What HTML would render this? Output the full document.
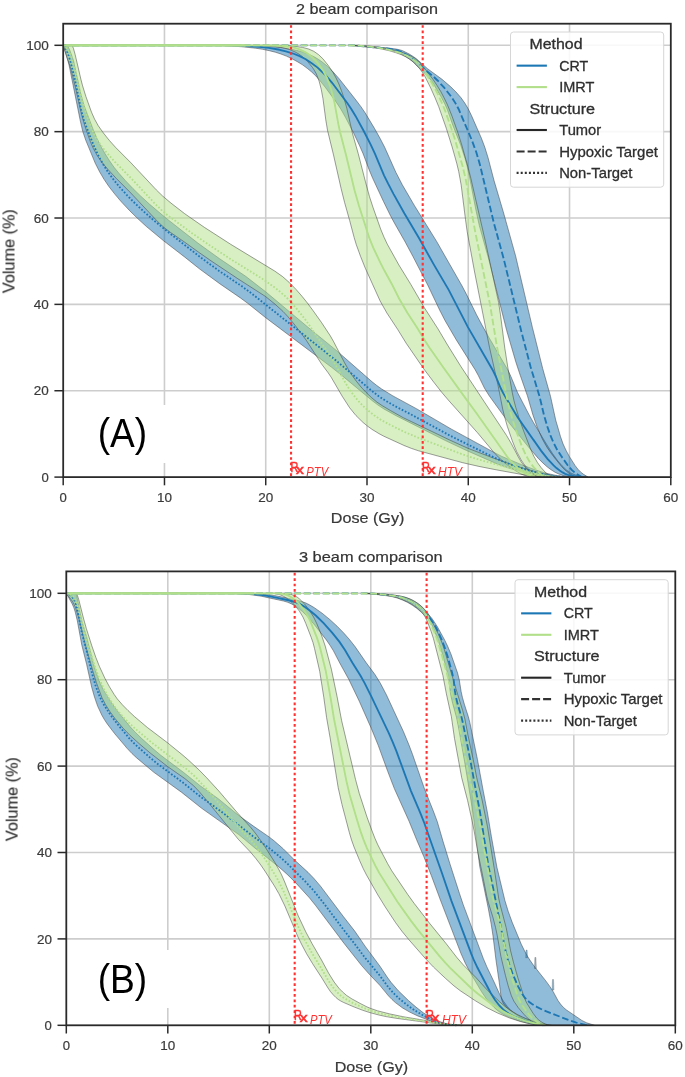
<!DOCTYPE html>
<html><head><meta charset="utf-8"><style>
html,body{margin:0;padding:0;background:#fff;width:685px;height:1077px;overflow:hidden}
svg{display:block}
</style></head><body>
<svg width="685" height="1077" viewBox="0 0 685 1077" font-family='"Liberation Sans", sans-serif'>
<defs><filter id="soft" x="0" y="0" width="685" height="1077" filterUnits="userSpaceOnUse"><feGaussianBlur stdDeviation="0.45"/></filter></defs>
<rect width="685" height="1077" fill="#ffffff"/>
<g filter="url(#soft)">
<g stroke="#cdcdcd" stroke-width="1.6">
<line x1="164.47" y1="23.70" x2="164.47" y2="477.10"/>
<line x1="265.73" y1="23.70" x2="265.73" y2="477.10"/>
<line x1="367.00" y1="23.70" x2="367.00" y2="477.10"/>
<line x1="468.27" y1="23.70" x2="468.27" y2="477.10"/>
<line x1="569.53" y1="23.70" x2="569.53" y2="477.10"/>
<line x1="63.20" y1="390.74" x2="670.80" y2="390.74"/>
<line x1="63.20" y1="304.38" x2="670.80" y2="304.38"/>
<line x1="63.20" y1="218.02" x2="670.80" y2="218.02"/>
<line x1="63.20" y1="131.66" x2="670.80" y2="131.66"/>
<line x1="63.20" y1="45.30" x2="670.80" y2="45.30"/>
</g>
<g>
<path d="M250.4,45.4 L274.2,46.9 L282.0,47.7 L289.3,48.9 L296.4,50.3 L302.4,51.9 L308.2,54.0 L313.6,56.5 L318.4,59.3 L322.9,62.5 L327.5,66.3 L331.9,70.6 L339.3,78.9 L356.5,100.8 L361.1,106.9 L365.1,112.8 L374.6,128.6 L380.3,138.8 L384.7,147.3 L395.8,172.2 L402.3,184.8 L414.4,205.5 L436.8,241.7 L462.1,286.0 L466.7,294.8 L476.6,314.9 L482.0,325.1 L489.3,338.1 L507.9,370.1 L510.9,376.5 L517.5,392.5 L529.3,415.2 L533.3,422.3 L547.0,444.9 L552.4,453.3 L557.4,460.3 L562.0,465.7 L566.4,469.9 L570.7,472.9 L575.0,474.8 L579.7,476.1 L586.5,477.1 L572.8,477.1 L566.8,476.3 L562.8,475.4 L559.0,474.1 L555.3,472.4 L551.3,469.9 L547.1,466.8 L542.8,462.9 L538.3,458.4 L528.7,447.3 L505.7,418.6 L489.0,395.5 L484.4,388.0 L478.3,375.5 L475.1,369.7 L456.3,339.9 L445.1,320.7 L439.6,310.0 L428.2,286.0 L413.0,256.6 L405.3,242.2 L394.5,223.2 L390.1,215.0 L383.5,201.5 L372.6,178.1 L369.2,169.9 L363.1,153.7 L359.3,145.1 L353.6,133.0 L345.6,117.6 L341.0,109.4 L336.4,102.4 L325.2,87.2 L319.5,80.1 L315.8,75.9 L311.7,72.0 L307.2,68.3 L302.5,64.8 L297.4,61.7 L291.7,58.6 L286.4,56.1 L280.9,54.0 L275.3,52.2 L269.3,50.7 L262.7,49.3 L255.6,48.2 L241.4,46.7 L220.3,45.4 Z" fill="#1f78b4" fill-opacity="0.5" stroke="#3c3c3c" stroke-opacity="0.55" stroke-width="0.9" stroke-linejoin="round"/>
<path d="M359.0,45.4 L390.5,48.3 L396.4,49.1 L399.7,49.8 L402.8,50.8 L409.2,54.0 L413.2,56.5 L416.7,59.0 L427.5,68.7 L442.0,79.3 L450.5,86.6 L456.0,92.0 L460.9,97.6 L464.8,103.1 L468.2,108.8 L471.5,115.6 L481.4,138.2 L484.9,147.5 L488.0,157.5 L494.1,180.8 L503.3,211.9 L515.6,255.9 L532.4,327.4 L542.7,368.5 L550.5,396.3 L555.7,420.0 L560.5,436.6 L563.1,444.0 L565.9,450.1 L569.3,456.4 L575.0,465.4 L577.9,469.2 L580.5,471.9 L583.5,474.3 L588.1,477.1 L575.3,477.1 L569.2,473.5 L564.5,469.6 L561.0,465.8 L555.1,458.5 L550.7,452.7 L547.4,447.9 L544.8,443.5 L542.1,438.5 L537.0,426.7 L533.0,415.2 L527.4,395.8 L520.2,375.2 L515.9,362.2 L506.6,330.3 L488.3,257.8 L479.3,225.5 L476.2,211.5 L469.3,175.9 L467.1,166.2 L465.0,158.5 L460.7,145.2 L452.7,124.9 L447.5,110.1 L444.8,103.9 L441.5,97.6 L433.5,84.0 L430.8,80.0 L428.3,76.9 L413.0,61.9 L409.0,58.7 L404.2,55.7 L399.6,53.3 L395.3,51.4 L391.9,50.2 L387.9,49.2 L381.4,48.4 L348.7,45.4 Z" fill="#1f78b4" fill-opacity="0.5" stroke="#3c3c3c" stroke-opacity="0.55" stroke-width="0.9" stroke-linejoin="round"/>
<path d="M66.9,45.3 L68.2,47.0 L69.6,49.7 L73.4,60.2 L81.0,94.8 L84.2,105.9 L93.8,131.2 L97.1,138.7 L100.7,146.1 L104.8,153.3 L109.2,160.3 L113.9,167.1 L118.7,173.0 L125.3,180.5 L132.9,188.5 L140.5,195.9 L149.4,204.1 L166.7,218.7 L197.9,243.1 L219.7,258.8 L245.7,276.3 L265.7,291.8 L313.1,331.5 L336.3,350.4 L372.1,381.8 L376.8,385.5 L381.7,389.0 L392.9,395.9 L416.8,408.9 L451.5,429.2 L494.1,452.4 L501.8,456.4 L521.6,464.7 L533.6,469.2 L541.3,471.8 L548.1,473.7 L555.1,475.2 L561.5,476.2 L569.5,477.1 L553.1,477.1 L546.7,476.5 L540.8,475.7 L526.4,472.7 L508.8,468.1 L497.7,464.2 L466.3,450.4 L445.8,440.8 L396.4,415.9 L383.8,408.9 L378.0,405.1 L372.5,400.9 L342.4,375.9 L331.6,367.3 L265.7,317.7 L247.7,303.3 L240.4,297.9 L219.7,283.7 L199.4,268.8 L184.5,256.9 L163.6,240.8 L146.4,226.5 L137.2,218.1 L129.4,210.4 L121.6,202.1 L115.2,194.6 L108.9,186.5 L104.0,179.3 L99.6,171.8 L95.2,163.1 L85.7,140.1 L82.8,131.6 L80.3,120.9 L69.3,66.2 L67.5,59.0 L63.2,45.3 Z" fill="#1f78b4" fill-opacity="0.5" stroke="#3c3c3c" stroke-opacity="0.55" stroke-width="0.9" stroke-linejoin="round"/>
<path d="M284.5,45.4 L293.9,46.1 L302.6,47.4 L308.6,49.0 L313.8,51.3 L318.4,54.5 L322.8,58.7 L328.3,65.5 L333.0,72.5 L336.0,77.9 L338.8,83.9 L341.4,90.6 L343.9,97.8 L346.9,108.6 L352.4,133.2 L358.2,153.5 L365.3,181.2 L369.5,196.7 L373.1,207.7 L380.7,229.2 L384.0,237.2 L387.3,244.2 L398.9,265.0 L410.8,284.4 L424.4,307.8 L438.0,328.9 L447.6,345.1 L461.1,366.8 L506.5,435.4 L511.1,443.2 L518.4,457.1 L521.3,462.1 L525.8,467.9 L530.6,472.5 L532.8,474.0 L535.2,475.2 L540.9,477.1 L530.5,477.1 L525.0,475.5 L521.1,474.0 L515.9,471.0 L509.5,466.6 L503.8,462.1 L498.8,457.5 L493.2,451.5 L477.3,432.5 L448.0,399.7 L441.8,392.4 L433.8,382.2 L423.8,368.9 L406.3,343.4 L397.6,329.3 L386.9,313.0 L380.1,300.9 L365.3,268.2 L360.6,256.5 L356.3,244.7 L354.2,237.7 L349.7,220.6 L344.6,202.5 L341.1,188.5 L333.5,154.9 L327.5,130.2 L325.8,119.9 L323.0,98.8 L321.3,89.6 L319.1,81.1 L316.3,73.8 L314.4,70.4 L312.5,67.5 L307.7,61.6 L302.0,56.3 L299.0,54.2 L295.8,52.3 L289.6,49.5 L282.7,47.6 L273.6,46.2 L263.0,45.4 Z" fill="#b2df8a" fill-opacity="0.5" stroke="#3c3c3c" stroke-opacity="0.55" stroke-width="0.9" stroke-linejoin="round"/>
<path d="M359.7,45.4 L367.6,45.9 L378.4,47.1 L385.8,48.2 L393.0,49.7 L399.6,51.5 L405.1,53.3 L410.3,55.7 L414.5,58.1 L418.2,61.0 L421.5,64.5 L426.5,70.7 L433.0,79.4 L437.0,85.4 L440.8,91.6 L444.1,97.9 L447.4,104.7 L452.1,116.4 L458.1,133.4 L461.7,144.8 L467.7,166.0 L470.8,178.2 L485.4,241.6 L498.6,302.4 L500.4,314.2 L504.8,348.2 L507.9,367.9 L512.3,392.9 L514.0,400.8 L515.8,407.6 L518.9,417.7 L523.3,430.1 L530.1,447.9 L533.7,456.0 L537.4,462.5 L541.1,467.6 L545.3,472.3 L550.8,477.1 L537.6,477.1 L530.9,471.6 L525.9,466.5 L523.4,463.3 L520.9,459.5 L516.6,451.5 L512.3,440.9 L507.3,426.3 L504.7,417.2 L502.7,409.0 L497.9,384.6 L489.6,347.8 L474.6,272.0 L467.2,231.8 L465.5,219.5 L461.2,185.1 L458.7,171.4 L456.7,163.1 L452.1,146.8 L446.4,128.6 L438.7,106.6 L435.1,97.9 L430.7,88.0 L425.1,76.8 L422.3,72.3 L419.4,68.3 L416.4,64.9 L413.1,61.7 L409.8,59.2 L406.3,57.1 L401.6,54.8 L395.8,52.7 L389.9,50.9 L383.0,49.3 L376.0,48.0 L368.5,46.9 L358.4,45.9 L350.9,45.4 Z" fill="#b2df8a" fill-opacity="0.5" stroke="#3c3c3c" stroke-opacity="0.55" stroke-width="0.9" stroke-linejoin="round"/>
<path d="M72.1,45.3 L73.4,48.3 L75.1,54.4 L80.9,79.3 L82.6,85.9 L85.9,96.5 L91.5,112.2 L94.6,119.2 L98.3,125.8 L103.3,132.9 L109.4,140.5 L115.5,147.3 L131.0,162.9 L156.3,189.9 L162.8,196.2 L171.0,203.1 L184.7,213.7 L204.3,227.3 L230.7,244.3 L274.8,271.1 L282.6,276.6 L289.4,282.6 L296.0,289.4 L302.0,296.3 L307.4,303.0 L313.1,310.7 L321.5,322.5 L330.4,336.0 L333.7,341.8 L344.5,362.7 L348.4,369.5 L351.7,374.8 L356.3,381.2 L361.0,387.0 L366.0,392.4 L371.4,397.5 L377.0,402.2 L382.1,405.6 L390.5,410.6 L403.4,417.8 L450.9,440.6 L467.9,448.3 L491.9,457.5 L508.8,463.5 L521.4,467.7 L539.5,472.8 L559.4,477.1 L543.0,477.1 L535.1,476.3 L520.9,474.3 L496.7,469.9 L478.9,466.4 L462.7,462.7 L418.6,450.8 L411.2,448.3 L403.9,445.4 L383.8,436.2 L379.1,433.7 L372.1,429.4 L367.5,426.1 L363.1,422.5 L356.0,415.6 L349.7,407.8 L342.2,396.2 L331.1,377.1 L328.1,372.7 L321.5,363.9 L306.3,340.3 L300.2,331.9 L293.4,323.2 L287.7,316.4 L283.0,311.4 L275.2,304.3 L265.4,296.4 L237.8,278.7 L211.0,260.8 L198.2,251.9 L184.7,242.2 L170.6,232.5 L164.7,228.0 L160.6,224.4 L155.6,219.4 L131.0,193.2 L116.2,178.3 L108.1,169.6 L102.7,163.3 L97.3,155.7 L93.3,148.4 L90.2,141.2 L84.8,125.8 L81.5,114.2 L75.9,89.3 L71.0,69.4 L69.2,63.6 L67.1,58.0 L63.2,45.3 Z" fill="#b2df8a" fill-opacity="0.5" stroke="#3c3c3c" stroke-opacity="0.55" stroke-width="0.9" stroke-linejoin="round"/>
<path d="M63.2,45.3 L229.9,45.3 L241.4,45.7 L259.3,46.9 L268.8,47.9 L278.2,49.5 L285.9,51.3 L293.1,53.5 L299.6,56.1 L305.8,59.3 L312.1,63.4 L317.6,67.6 L324.9,74.5 L332.1,82.8 L347.4,103.2 L351.6,109.4 L355.5,115.9 L363.6,130.8 L370.7,144.6 L374.9,153.7 L384.0,175.3 L388.0,183.4 L393.6,194.1 L404.3,213.3 L419.1,238.3 L434.0,264.9 L448.7,289.9 L467.5,326.4 L492.5,369.7 L495.6,376.0 L500.6,388.0 L503.3,393.4 L517.5,416.9 L522.3,423.9 L541.0,450.6 L547.5,458.8 L553.6,465.4 L556.5,468.1 L559.7,470.5 L562.6,472.4 L565.2,473.8 L568.0,474.8 L571.3,475.8 L579.7,477.1" fill="none" stroke="#1f78b4" stroke-width="1.85" />
<path d="M63.2,45.3 L354.4,45.4 L387.2,48.5 L394.6,49.7 L399.3,51.2 L404.2,53.5 L410.2,57.0 L415.0,60.6 L423.8,68.7 L433.1,76.3 L437.8,80.7 L444.2,87.7 L451.0,96.4 L455.4,103.1 L458.7,109.2 L471.8,140.1 L476.3,152.3 L479.8,164.2 L493.9,223.1 L503.7,258.8 L521.4,331.7 L530.5,366.6 L539.6,396.7 L544.0,415.2 L547.4,426.7 L550.5,435.7 L553.7,443.1 L556.9,449.3 L560.9,455.6 L567.5,465.0 L571.7,469.9 L575.8,473.5 L581.7,477.1" fill="none" stroke="#1f78b4" stroke-width="1.85" stroke-dasharray="6.7,2.8"/>
<path d="M63.2,45.3 L65.7,49.0 L67.3,52.1 L68.7,55.8 L70.3,61.0 L74.5,78.0 L81.1,109.8 L83.7,119.5 L85.9,125.6 L93.2,144.2 L96.0,150.6 L99.3,157.4 L103.7,165.2 L108.3,172.4 L113.6,179.7 L119.6,187.0 L127.0,195.2 L135.1,203.4 L144.2,211.9 L154.0,220.5 L167.5,231.6 L202.2,258.6 L218.8,270.7 L241.6,286.1 L251.3,293.2 L334.3,359.1 L373.3,392.1 L378.8,396.3 L385.1,400.4 L395.1,406.2 L411.5,414.7 L451.1,436.2 L493.6,457.3 L501.8,461.0 L509.7,464.1 L520.2,467.7 L532.6,471.5 L540.8,473.7 L547.6,475.1 L554.6,476.1 L561.0,476.7 L569.5,477.1" fill="none" stroke="#1f78b4" stroke-width="1.85" stroke-dasharray="1.7,1.8"/>
<path d="M63.2,45.3 L263.8,45.3 L275.3,45.5 L288.7,46.8 L293.6,47.7 L297.4,48.7 L301.6,50.3 L305.6,52.3 L308.9,54.5 L312.3,57.3 L315.5,60.5 L318.4,63.9 L323.3,70.8 L327.2,78.4 L330.6,87.7 L332.5,94.5 L334.3,101.7 L338.4,124.4 L340.1,132.2 L345.9,154.4 L354.6,190.4 L358.8,205.3 L369.2,237.7 L373.1,247.4 L380.2,262.4 L384.5,270.8 L392.2,284.8 L399.2,298.7 L407.5,313.0 L417.3,328.1 L425.3,341.3 L429.7,348.0 L443.2,367.3 L465.4,398.1 L475.8,412.2 L506.9,456.3 L510.3,460.6 L513.8,464.2 L517.8,467.9 L521.7,471.0 L524.6,473.0 L527.6,474.6 L530.8,475.9 L535.1,477.1" fill="none" stroke="#b2df8a" stroke-width="1.85" />
<path d="M63.2,45.3 L344.3,45.3 L356.8,45.5 L366.8,46.3 L377.7,47.6 L386.0,49.1 L393.8,50.9 L401.0,53.2 L406.9,55.7 L411.7,58.4 L416.0,61.7 L421.1,67.1 L426.7,74.8 L432.0,83.2 L437.2,92.9 L441.5,102.0 L445.3,111.2 L450.8,126.8 L455.0,139.6 L462.4,165.5 L465.6,178.7 L475.3,232.3 L489.9,303.8 L496.3,342.8 L499.0,357.6 L507.2,399.3 L509.7,410.0 L513.1,421.5 L517.1,433.4 L522.3,447.4 L526.1,455.6 L529.8,462.1 L534.0,467.6 L538.5,472.3 L544.2,477.1" fill="none" stroke="#b2df8a" stroke-width="1.85" stroke-dasharray="6.7,2.8"/>
<path d="M63.2,45.3 L66.1,47.8 L68.2,50.5 L69.9,53.5 L71.5,57.6 L75.2,70.6 L80.9,95.5 L82.6,102.3 L85.8,112.3 L91.5,128.3 L94.1,134.2 L97.3,139.9 L101.2,145.7 L105.8,151.6 L115.1,162.1 L131.0,178.1 L154.6,203.3 L161.0,209.6 L167.0,214.8 L191.6,232.9 L209.3,245.1 L232.3,260.2 L260.4,277.6 L268.3,282.9 L278.4,290.3 L286.3,297.2 L295.4,307.2 L304.5,318.5 L309.7,325.8 L320.9,342.4 L328.4,353.0 L332.9,360.2 L345.0,382.1 L348.6,388.1 L351.7,392.6 L355.4,397.4 L359.3,402.0 L363.1,405.9 L367.5,410.0 L374.1,415.3 L381.2,420.0 L390.0,424.8 L404.3,431.9 L418.6,437.9 L461.3,453.9 L472.2,457.5 L486.1,461.6 L522.4,471.3 L532.7,473.5 L542.5,475.3 L550.4,476.3 L559.4,477.1" fill="none" stroke="#b2df8a" stroke-width="1.85" stroke-dasharray="1.7,1.8"/>
<line x1="66.24" y1="45.30" x2="245.48" y2="45.30" stroke="#b2df8a" stroke-width="2.2"/>
</g>
<line x1="291.05" y1="23.70" x2="291.05" y2="477.10" stroke="#ff3030" stroke-width="2.1" stroke-dasharray="2.7,2.7" stroke-dashoffset="3.95"/>
<text x="290.45" y="471.50" font-size="15" fill="#ff3030" stroke="#ff3030" stroke-width="0.5" textLength="7.8" lengthAdjust="spacingAndGlyphs">R</text>
<text x="296.05" y="473.70" font-size="12.5" fill="#ff3030" stroke="#ff3030" stroke-width="0.5" textLength="7.9" lengthAdjust="spacingAndGlyphs">x</text>
<text x="306.35" y="476.10" font-size="12.4" font-style="italic" fill="#ff3030" textLength="21.9" lengthAdjust="spacingAndGlyphs">PTV</text>
<line x1="422.70" y1="23.70" x2="422.70" y2="477.10" stroke="#ff3030" stroke-width="2.1" stroke-dasharray="2.7,2.7" stroke-dashoffset="3.95"/>
<text x="422.10" y="471.50" font-size="15" fill="#ff3030" stroke="#ff3030" stroke-width="0.5" textLength="7.8" lengthAdjust="spacingAndGlyphs">R</text>
<text x="427.70" y="473.70" font-size="12.5" fill="#ff3030" stroke="#ff3030" stroke-width="0.5" textLength="7.9" lengthAdjust="spacingAndGlyphs">x</text>
<text x="438.00" y="476.10" font-size="12.4" font-style="italic" fill="#ff3030" textLength="24.1" lengthAdjust="spacingAndGlyphs">HTV</text>
<rect x="63.20" y="23.70" width="607.60" height="453.40" fill="none" stroke="#2b2b2b" stroke-width="1.8"/>
<g stroke="#2b2b2b" stroke-width="1.5">
<line x1="63.20" y1="477.10" x2="63.20" y2="485.30"/>
<line x1="164.47" y1="477.10" x2="164.47" y2="485.30"/>
<line x1="265.73" y1="477.10" x2="265.73" y2="485.30"/>
<line x1="367.00" y1="477.10" x2="367.00" y2="485.30"/>
<line x1="468.27" y1="477.10" x2="468.27" y2="485.30"/>
<line x1="569.53" y1="477.10" x2="569.53" y2="485.30"/>
<line x1="670.80" y1="477.10" x2="670.80" y2="485.30"/>
<line x1="54.40" y1="477.10" x2="63.20" y2="477.10"/>
<line x1="54.40" y1="390.74" x2="63.20" y2="390.74"/>
<line x1="54.40" y1="304.38" x2="63.20" y2="304.38"/>
<line x1="54.40" y1="218.02" x2="63.20" y2="218.02"/>
<line x1="54.40" y1="131.66" x2="63.20" y2="131.66"/>
<line x1="54.40" y1="45.30" x2="63.20" y2="45.30"/>
</g>
<text x="63.20" y="501.90" font-size="13" text-anchor="middle" fill="#3a3a3a" stroke="#3a3a3a" stroke-width="0.2" textLength="7.3" lengthAdjust="spacingAndGlyphs" >0</text>
<text x="164.47" y="501.90" font-size="13" text-anchor="middle" fill="#3a3a3a" stroke="#3a3a3a" stroke-width="0.2" textLength="15.0" lengthAdjust="spacingAndGlyphs" >10</text>
<text x="265.73" y="501.90" font-size="13" text-anchor="middle" fill="#3a3a3a" stroke="#3a3a3a" stroke-width="0.2" textLength="15.0" lengthAdjust="spacingAndGlyphs" >20</text>
<text x="367.00" y="501.90" font-size="13" text-anchor="middle" fill="#3a3a3a" stroke="#3a3a3a" stroke-width="0.2" textLength="15.0" lengthAdjust="spacingAndGlyphs" >30</text>
<text x="468.27" y="501.90" font-size="13" text-anchor="middle" fill="#3a3a3a" stroke="#3a3a3a" stroke-width="0.2" textLength="15.0" lengthAdjust="spacingAndGlyphs" >40</text>
<text x="569.53" y="501.90" font-size="13" text-anchor="middle" fill="#3a3a3a" stroke="#3a3a3a" stroke-width="0.2" textLength="15.0" lengthAdjust="spacingAndGlyphs" >50</text>
<text x="670.80" y="501.90" font-size="13" text-anchor="middle" fill="#3a3a3a" stroke="#3a3a3a" stroke-width="0.2" textLength="15.0" lengthAdjust="spacingAndGlyphs" >60</text>
<text x="48.80" y="481.80" font-size="13" text-anchor="end" fill="#3a3a3a" stroke="#3a3a3a" stroke-width="0.2" textLength="7.3" lengthAdjust="spacingAndGlyphs" >0</text>
<text x="48.80" y="395.44" font-size="13" text-anchor="end" fill="#3a3a3a" stroke="#3a3a3a" stroke-width="0.2" textLength="15.0" lengthAdjust="spacingAndGlyphs" >20</text>
<text x="48.80" y="309.08" font-size="13" text-anchor="end" fill="#3a3a3a" stroke="#3a3a3a" stroke-width="0.2" textLength="15.0" lengthAdjust="spacingAndGlyphs" >40</text>
<text x="48.80" y="222.72" font-size="13" text-anchor="end" fill="#3a3a3a" stroke="#3a3a3a" stroke-width="0.2" textLength="15.0" lengthAdjust="spacingAndGlyphs" >60</text>
<text x="48.80" y="136.36" font-size="13" text-anchor="end" fill="#3a3a3a" stroke="#3a3a3a" stroke-width="0.2" textLength="15.0" lengthAdjust="spacingAndGlyphs" >80</text>
<text x="48.80" y="50.00" font-size="13" text-anchor="end" fill="#3a3a3a" stroke="#3a3a3a" stroke-width="0.2" textLength="22.6" lengthAdjust="spacingAndGlyphs" >100</text>
<text x="367.00" y="13.80" font-size="14.4" text-anchor="middle" fill="#333333" stroke="#333333" stroke-width="0.2" textLength="142" lengthAdjust="spacingAndGlyphs" >2 beam comparison</text>
<text x="367.60" y="523.30" font-size="14.2" text-anchor="middle" fill="#383838" stroke="#383838" stroke-width="0.2" textLength="73.5" lengthAdjust="spacingAndGlyphs" >Dose (Gy)</text>
<text x="0" y="0" font-size="15.6" text-anchor="middle" fill="#383838" stroke="#383838" stroke-width="0.2" textLength="84" lengthAdjust="spacingAndGlyphs" transform="translate(14.50,251.20) rotate(-90)">Volume (%)</text>
<rect x="510.50" y="32.00" width="153.20" height="155.20" rx="3" fill="#ffffff" fill-opacity="0.85" stroke="#d6d6d6" stroke-width="1"/>
<text x="529.50" y="49.30" font-size="14.6" text-anchor="start" fill="#2e2e2e" stroke="#2e2e2e" stroke-width="0.3" textLength="53" lengthAdjust="spacingAndGlyphs" >Method</text>
<line x1="516.60" y1="65.65" x2="546.90" y2="65.65" stroke="#1f78b4" stroke-width="2.1" />
<text x="559.20" y="70.75" font-size="14.6" text-anchor="start" fill="#2e2e2e" stroke="#2e2e2e" stroke-width="0.3" textLength="29" lengthAdjust="spacingAndGlyphs" >CRT</text>
<line x1="516.60" y1="87.10" x2="546.90" y2="87.10" stroke="#b2df8a" stroke-width="2.1" />
<text x="559.20" y="92.20" font-size="14.6" text-anchor="start" fill="#2e2e2e" stroke="#2e2e2e" stroke-width="0.3" textLength="35.2" lengthAdjust="spacingAndGlyphs" >IMRT</text>
<text x="529.50" y="113.65" font-size="14.6" text-anchor="start" fill="#2e2e2e" stroke="#2e2e2e" stroke-width="0.3" textLength="65.5" lengthAdjust="spacingAndGlyphs" >Structure</text>
<line x1="516.60" y1="130.00" x2="546.90" y2="130.00" stroke="#262626" stroke-width="2.1" />
<text x="559.20" y="135.10" font-size="14.6" text-anchor="start" fill="#2e2e2e" stroke="#2e2e2e" stroke-width="0.3" textLength="42" lengthAdjust="spacingAndGlyphs" >Tumor</text>
<line x1="516.60" y1="151.45" x2="546.90" y2="151.45" stroke="#333333" stroke-width="2.1" stroke-dasharray="8,3"/>
<text x="559.20" y="156.55" font-size="14.6" text-anchor="start" fill="#2e2e2e" stroke="#2e2e2e" stroke-width="0.3" textLength="98.7" lengthAdjust="spacingAndGlyphs" >Hypoxic Target</text>
<line x1="516.60" y1="172.90" x2="546.90" y2="172.90" stroke="#333333" stroke-width="2.1" stroke-dasharray="2,2.1"/>
<text x="559.20" y="178.00" font-size="14.6" text-anchor="start" fill="#2e2e2e" stroke="#2e2e2e" stroke-width="0.3" textLength="73.2" lengthAdjust="spacingAndGlyphs" >Non-Target</text>
<rect x="86" y="405" width="90" height="58" fill="#ffffff"/>
<text x="97.7" y="447.3" font-size="40" fill="#000" textLength="49.5" lengthAdjust="spacingAndGlyphs">(A)</text>
<g stroke="#cdcdcd" stroke-width="1.6">
<line x1="167.80" y1="571.40" x2="167.80" y2="1025.30"/>
<line x1="269.30" y1="571.40" x2="269.30" y2="1025.30"/>
<line x1="370.80" y1="571.40" x2="370.80" y2="1025.30"/>
<line x1="472.30" y1="571.40" x2="472.30" y2="1025.30"/>
<line x1="573.80" y1="571.40" x2="573.80" y2="1025.30"/>
<line x1="66.30" y1="938.90" x2="675.30" y2="938.90"/>
<line x1="66.30" y1="852.50" x2="675.30" y2="852.50"/>
<line x1="66.30" y1="766.10" x2="675.30" y2="766.10"/>
<line x1="66.30" y1="679.70" x2="675.30" y2="679.70"/>
<line x1="66.30" y1="593.30" x2="675.30" y2="593.30"/>
</g>
<g>
<path d="M251.5,593.4 L262.9,594.2 L274.2,595.5 L281.0,596.8 L297.4,600.4 L302.2,601.7 L305.9,603.0 L309.9,605.1 L314.3,607.7 L322.1,613.2 L330.0,619.7 L337.1,626.2 L344.0,633.3 L349.8,639.9 L355.2,646.8 L365.9,662.3 L375.0,674.6 L380.4,683.3 L386.5,695.0 L403.4,731.5 L408.9,744.8 L412.6,754.6 L424.5,788.9 L433.7,812.0 L437.3,821.7 L443.1,841.6 L449.9,863.7 L459.5,893.6 L463.3,904.9 L483.4,958.7 L486.9,966.9 L494.1,982.0 L499.9,994.8 L503.4,1001.1 L507.6,1006.8 L511.5,1011.0 L515.7,1014.1 L522.1,1017.4 L531.2,1020.8 L539.7,1023.3 L548.9,1025.3 L537.8,1025.3 L526.9,1023.0 L519.0,1020.7 L510.8,1017.8 L505.1,1015.3 L500.7,1012.8 L497.3,1010.3 L493.8,1007.2 L489.8,1003.0 L486.5,999.0 L481.5,991.7 L471.8,975.3 L465.5,963.7 L461.0,953.6 L440.8,901.1 L431.3,875.5 L423.8,856.6 L416.6,839.7 L409.1,821.3 L394.3,788.5 L387.8,771.6 L378.2,745.3 L371.3,728.4 L359.3,701.3 L348.8,679.4 L339.8,663.1 L333.3,650.6 L330.2,645.6 L326.3,639.9 L313.8,624.0 L306.2,615.2 L302.5,611.6 L298.8,608.6 L294.9,605.8 L291.5,603.9 L287.8,602.3 L283.5,601.0 L261.2,596.2 L249.2,594.5 L234.1,593.4 Z" fill="#1f78b4" fill-opacity="0.5" stroke="#3c3c3c" stroke-opacity="0.55" stroke-width="0.9" stroke-linejoin="round"/>
<path d="M374.3,593.4 L389.6,594.6 L396.5,595.5 L401.8,596.4 L406.0,597.5 L409.5,598.8 L412.9,600.4 L416.5,602.6 L419.8,605.1 L423.2,608.2 L427.2,612.7 L432.4,619.1 L437.3,626.6 L445.0,640.7 L447.9,646.8 L450.9,653.9 L457.6,673.1 L459.3,680.0 L461.1,691.4 L462.4,697.3 L464.3,704.1 L468.3,716.6 L469.8,722.4 L477.4,759.2 L483.3,791.2 L487.3,811.9 L491.4,836.6 L496.9,867.2 L504.9,900.5 L508.2,911.3 L512.1,922.1 L521.3,944.3 L524.4,950.6 L527.3,956.0 L530.4,960.8 L533.7,965.6 L545.8,980.9 L549.8,986.4 L553.2,991.7 L557.9,1000.4 L560.5,1004.1 L563.2,1007.2 L566.5,1010.0 L581.8,1020.4 L586.6,1022.8 L594.6,1025.3 L538.4,1025.3 L529.6,1022.5 L526.8,1021.3 L524.1,1019.7 L508.9,1009.6 L505.6,1006.4 L503.1,1003.0 L501.7,999.7 L500.9,995.9 L499.3,982.8 L496.0,960.3 L493.0,935.9 L491.2,924.1 L488.2,907.9 L479.7,866.3 L473.2,814.3 L464.6,761.7 L458.2,725.8 L456.5,717.5 L452.7,703.6 L451.1,696.8 L450.1,690.9 L448.9,680.0 L447.8,674.1 L442.1,652.9 L438.6,641.6 L433.4,628.0 L431.4,624.0 L429.3,620.7 L426.0,616.8 L421.6,612.4 L417.0,608.5 L412.1,605.1 L407.4,602.3 L402.4,600.0 L397.5,598.1 L392.9,596.8 L387.8,595.9 L380.7,594.9 L370.1,593.9 L362.5,593.4 Z" fill="#1f78b4" fill-opacity="0.5" stroke="#3c3c3c" stroke-opacity="0.55" stroke-width="0.9" stroke-linejoin="round"/>
<path d="M75.6,593.3 L76.5,595.4 L77.2,598.1 L81.9,620.9 L86.8,637.4 L93.1,662.4 L96.0,672.2 L99.2,680.9 L101.5,686.1 L103.9,690.7 L111.1,702.2 L118.4,712.3 L130.0,726.6 L135.2,732.2 L141.5,738.3 L152.9,748.6 L160.7,755.2 L183.7,772.5 L200.1,785.7 L218.5,798.9 L238.8,815.6 L253.4,826.1 L269.1,836.9 L274.3,841.0 L283.4,848.9 L294.5,860.0 L308.0,872.3 L313.7,878.2 L320.3,885.9 L343.2,916.3 L354.9,931.3 L365.1,946.2 L379.8,966.0 L387.2,977.1 L391.0,982.3 L398.4,990.8 L408.5,1000.6 L416.0,1007.1 L423.3,1012.8 L428.7,1016.1 L434.1,1019.1 L439.3,1021.4 L444.2,1023.1 L450.1,1024.3 L457.1,1025.3 L450.1,1025.1 L444.2,1024.5 L437.4,1023.2 L430.9,1021.1 L417.2,1015.7 L409.7,1012.1 L402.5,1007.9 L395.4,1002.6 L392.0,999.5 L388.7,996.1 L379.8,985.3 L368.2,973.0 L361.4,965.3 L344.1,943.4 L315.6,905.5 L309.4,897.8 L294.9,881.9 L286.7,873.9 L278.2,866.4 L255.0,848.1 L238.8,834.6 L201.7,808.3 L181.7,792.4 L153.6,772.1 L136.7,757.9 L132.0,753.6 L127.3,748.6 L114.4,733.3 L107.1,723.7 L104.2,719.3 L101.8,715.1 L97.7,706.3 L94.5,697.1 L91.7,687.2 L86.6,664.3 L81.8,645.1 L77.3,620.7 L75.3,612.2 L73.9,607.8 L72.2,603.9 L66.3,593.3 Z" fill="#1f78b4" fill-opacity="0.5" stroke="#3c3c3c" stroke-opacity="0.55" stroke-width="0.9" stroke-linejoin="round"/>
<path d="M284.9,593.4 L290.6,594.2 L295.0,595.8 L297.4,597.3 L299.6,599.0 L304.3,603.7 L309.4,610.3 L313.6,617.1 L316.9,623.9 L321.8,636.0 L325.2,646.0 L331.4,669.3 L337.1,696.8 L341.6,720.5 L355.5,779.4 L359.3,793.5 L367.0,817.1 L371.7,830.0 L375.0,838.5 L377.7,844.6 L381.2,851.4 L387.6,863.6 L391.7,870.7 L407.8,894.6 L414.1,903.3 L429.6,923.3 L445.8,943.2 L457.1,957.8 L463.3,964.9 L475.9,977.5 L486.0,988.7 L490.1,992.8 L499.5,1001.7 L505.2,1006.6 L511.1,1010.8 L517.7,1014.7 L525.7,1018.5 L533.7,1021.4 L542.5,1023.7 L551.7,1025.3 L539.1,1025.3 L532.5,1024.3 L520.9,1021.7 L509.3,1017.9 L497.3,1012.9 L487.0,1007.7 L475.9,1001.1 L460.5,990.9 L454.0,985.9 L445.3,978.2 L433.5,967.1 L425.8,959.0 L408.9,939.7 L401.9,931.2 L395.5,922.5 L385.3,907.0 L377.9,895.0 L366.5,875.0 L363.2,868.5 L359.6,860.5 L354.0,846.9 L351.5,839.9 L349.3,832.4 L342.0,804.6 L338.2,787.7 L330.1,737.7 L326.6,717.6 L323.8,697.3 L319.7,671.2 L314.5,648.4 L313.0,642.6 L311.2,637.4 L305.8,623.5 L303.0,617.1 L299.4,611.1 L295.1,605.6 L292.2,602.6 L289.5,600.2 L286.6,598.1 L283.9,596.5 L281.1,595.2 L278.2,594.3 L275.3,593.7 L271.8,593.4 Z" fill="#b2df8a" fill-opacity="0.5" stroke="#3c3c3c" stroke-opacity="0.55" stroke-width="0.9" stroke-linejoin="round"/>
<path d="M374.2,593.4 L381.2,593.8 L390.5,594.7 L397.4,595.6 L402.7,596.6 L406.8,597.8 L410.3,599.2 L414.1,601.1 L417.7,603.3 L421.0,605.9 L423.7,608.4 L426.2,611.2 L428.1,613.9 L431.0,619.1 L438.4,634.2 L440.8,639.8 L443.0,645.6 L445.6,653.8 L455.9,688.6 L462.6,710.4 L464.9,719.1 L468.1,735.9 L473.2,759.5 L476.7,777.7 L482.1,800.0 L487.5,826.9 L494.2,868.3 L498.8,898.9 L500.1,904.7 L506.2,927.8 L510.6,950.9 L513.4,962.1 L517.8,977.6 L523.3,994.8 L525.0,999.5 L526.7,1003.0 L533.0,1013.2 L536.7,1018.1 L538.8,1020.0 L541.0,1021.7 L547.2,1025.3 L539.5,1025.3 L534.8,1023.0 L531.3,1020.9 L528.4,1018.7 L525.3,1015.9 L518.2,1007.6 L513.9,1001.2 L511.4,995.8 L508.2,985.8 L505.5,975.7 L500.9,956.3 L497.2,935.2 L495.5,927.3 L493.0,917.6 L488.4,902.7 L486.8,896.4 L481.7,870.8 L477.7,851.6 L474.3,831.8 L472.0,820.5 L467.6,800.5 L461.7,777.7 L454.5,738.4 L451.4,716.7 L446.4,693.9 L442.9,675.4 L433.4,638.4 L431.1,631.4 L427.3,621.4 L425.6,617.8 L423.8,614.8 L421.9,612.4 L419.4,609.8 L416.1,607.1 L412.2,604.4 L408.0,602.0 L403.7,600.0 L396.8,597.5 L389.8,595.9 L376.7,594.3 L364.1,593.4 Z" fill="#b2df8a" fill-opacity="0.5" stroke="#3c3c3c" stroke-opacity="0.55" stroke-width="0.9" stroke-linejoin="round"/>
<path d="M76.4,593.3 L77.5,595.7 L78.8,599.8 L83.7,619.1 L86.3,628.4 L91.8,645.8 L95.8,657.3 L99.4,666.4 L105.0,678.5 L109.5,686.9 L114.2,694.5 L117.2,698.8 L122.4,704.8 L128.0,710.5 L134.5,716.6 L147.4,727.5 L167.7,742.9 L182.1,754.6 L188.7,760.3 L199.3,770.2 L206.7,777.8 L218.8,791.0 L236.7,812.0 L250.6,827.3 L256.0,834.0 L264.2,845.5 L274.6,862.1 L278.6,869.1 L281.6,874.9 L284.7,882.0 L297.8,914.9 L305.7,931.7 L312.1,943.7 L321.5,960.0 L328.7,973.3 L334.2,982.1 L339.0,988.3 L342.5,991.9 L346.7,995.5 L351.9,998.9 L360.1,1003.4 L367.0,1006.9 L370.8,1008.5 L377.5,1010.8 L389.2,1013.8 L403.0,1016.7 L445.6,1023.8 L453.1,1024.6 L462.2,1025.3 L448.1,1024.9 L431.7,1023.1 L395.6,1018.2 L386.2,1016.6 L378.4,1014.9 L368.9,1012.3 L362.8,1010.3 L354.2,1007.0 L343.7,1002.5 L340.9,1001.1 L338.2,999.4 L335.8,997.4 L333.3,994.9 L330.4,991.5 L328.0,988.0 L322.0,978.2 L312.6,963.7 L306.4,953.4 L301.9,944.9 L297.8,936.6 L284.9,906.0 L278.9,893.7 L274.4,885.9 L265.0,871.2 L260.8,865.0 L256.0,858.7 L250.3,851.9 L238.3,839.3 L205.7,799.2 L199.3,791.7 L193.6,785.7 L184.9,778.6 L167.7,766.6 L150.2,753.0 L139.8,744.2 L130.1,735.4 L123.1,728.2 L114.8,718.3 L109.8,711.4 L105.5,704.5 L102.0,697.8 L96.4,682.7 L93.0,671.5 L86.3,648.4 L83.7,638.4 L78.8,617.8 L75.6,607.9 L74.0,604.3 L72.4,601.3 L66.3,593.3 Z" fill="#b2df8a" fill-opacity="0.5" stroke="#3c3c3c" stroke-opacity="0.55" stroke-width="0.9" stroke-linejoin="round"/>
<path d="M525.7,957.7 L526.1,950.1 L527.1,950.1 L527.5,957.7 Z" fill="#1f78b4" fill-opacity="0.5" stroke="#3c3c3c" stroke-opacity="0.4" stroke-width="0.7"/>
<path d="M534.5,968.5 L534.9,957.5 L535.9,957.5 L536.3,968.5 Z" fill="#1f78b4" fill-opacity="0.5" stroke="#3c3c3c" stroke-opacity="0.4" stroke-width="0.7"/>
<path d="M552.1,990.1 L552.5,979.5 L553.5,979.5 L553.9,990.1 Z" fill="#1f78b4" fill-opacity="0.5" stroke="#3c3c3c" stroke-opacity="0.4" stroke-width="0.7"/>
<path d="M66.3,593.3 L235.8,593.3 L244.3,593.5 L253.3,594.1 L262.7,595.1 L270.2,596.3 L289.7,600.5 L295.0,602.0 L299.6,603.9 L304.3,606.6 L310.0,610.7 L315.8,615.5 L323.6,623.2 L332.3,632.9 L339.5,641.9 L345.1,650.2 L352.4,662.7 L360.4,675.5 L364.5,682.9 L371.5,696.8 L388.7,732.9 L392.5,741.6 L396.3,750.9 L410.9,790.8 L420.3,812.9 L424.2,822.7 L442.0,873.2 L451.5,901.1 L471.4,954.1 L474.0,960.5 L477.5,967.8 L490.7,993.0 L494.9,999.8 L499.5,1005.7 L504.1,1010.3 L508.8,1013.8 L515.5,1017.2 L524.9,1020.7 L533.6,1023.2 L543.4,1025.3" fill="none" stroke="#1f78b4" stroke-width="1.85" />
<path d="M66.3,593.3 L369.7,593.4 L377.7,594.0 L389.2,595.2 L395.6,596.1 L400.5,597.2 L405.2,598.8 L410.2,601.1 L414.9,603.9 L418.9,606.9 L424.4,612.0 L430.0,618.4 L433.5,623.2 L436.5,628.4 L441.3,638.9 L444.6,647.2 L448.0,657.7 L452.0,672.2 L453.6,679.5 L454.9,690.9 L455.8,696.3 L457.5,703.6 L461.6,717.5 L463.1,723.9 L470.5,761.2 L476.0,791.2 L479.9,811.4 L488.7,867.7 L493.0,887.3 L505.8,952.1 L508.8,963.2 L512.7,974.0 L518.1,986.4 L522.4,994.3 L524.4,997.1 L526.4,999.4 L528.9,1001.7 L531.7,1003.8 L536.8,1006.9 L542.6,1009.8 L568.2,1019.9 L576.3,1022.6 L587.0,1025.3" fill="none" stroke="#1f78b4" stroke-width="1.85" stroke-dasharray="6.7,2.8"/>
<path d="M66.3,593.3 L69.7,594.9 L72.2,597.0 L74.3,600.2 L76.0,604.3 L77.4,610.1 L81.8,632.7 L86.6,650.6 L92.2,674.0 L95.6,685.6 L99.6,696.3 L101.8,700.8 L104.2,705.2 L110.5,714.9 L118.7,725.6 L129.3,738.3 L133.8,743.0 L138.9,747.8 L149.8,757.4 L156.7,763.2 L182.9,782.6 L200.1,796.4 L222.1,812.2 L252.6,835.9 L269.5,848.4 L279.3,856.3 L286.7,863.0 L305.9,882.1 L314.3,891.4 L324.9,904.8 L342.9,928.8 L354.9,944.2 L364.2,956.7 L379.8,975.6 L388.4,987.3 L393.7,993.3 L399.5,998.9 L406.9,1004.8 L415.1,1010.6 L422.9,1015.2 L431.4,1019.5 L437.4,1021.9 L443.2,1023.6 L449.6,1024.7 L457.1,1025.3" fill="none" stroke="#1f78b4" stroke-width="1.85" stroke-dasharray="1.7,1.8"/>
<path d="M66.3,593.3 L277.4,593.4 L282.7,593.9 L287.4,595.2 L291.7,597.5 L296.0,600.9 L299.5,604.4 L302.7,608.3 L305.5,612.4 L308.1,616.7 L310.5,621.6 L313.1,628.1 L316.8,637.4 L318.9,643.6 L320.8,650.8 L325.7,670.7 L330.5,697.3 L334.1,719.5 L346.5,781.4 L349.7,795.0 L356.6,818.5 L360.9,832.4 L363.6,839.9 L366.6,847.3 L371.9,858.7 L375.9,866.8 L379.2,872.9 L397.4,901.7 L411.0,920.9 L418.3,930.4 L439.7,956.3 L445.2,962.7 L450.1,967.8 L471.0,988.0 L477.8,993.8 L491.4,1004.1 L498.9,1009.0 L506.8,1013.4 L516.4,1017.7 L525.3,1020.9 L535.0,1023.5 L545.4,1025.3" fill="none" stroke="#b2df8a" stroke-width="1.85" />
<path d="M66.3,593.3 L370.1,593.5 L378.6,594.0 L390.1,595.3 L396.5,596.3 L401.4,597.5 L406.5,599.4 L411.9,602.0 L416.5,605.0 L420.8,608.4 L424.8,612.7 L427.7,617.3 L433.9,631.0 L437.0,638.9 L439.2,646.0 L446.7,672.5 L451.3,691.5 L457.0,712.8 L458.6,720.6 L461.5,737.9 L465.8,759.5 L469.1,777.2 L475.0,800.9 L480.4,826.9 L484.4,850.6 L488.0,869.8 L492.8,897.4 L494.3,903.7 L498.3,917.6 L500.6,926.4 L502.3,934.2 L506.0,954.9 L512.7,980.5 L518.2,997.6 L520.3,1002.1 L522.9,1006.3 L528.5,1014.0 L532.5,1018.4 L537.2,1022.0 L543.4,1025.3" fill="none" stroke="#b2df8a" stroke-width="1.85" stroke-dasharray="6.7,2.8"/>
<path d="M66.3,593.3 L70.0,594.5 L72.7,596.2 L74.9,598.7 L76.6,602.2 L78.9,609.3 L83.5,628.2 L86.1,637.9 L92.5,659.0 L96.4,670.9 L100.0,680.2 L103.4,688.0 L107.7,695.9 L112.5,703.6 L117.2,710.0 L122.7,716.5 L129.0,722.9 L137.2,730.4 L151.0,742.0 L185.6,768.4 L191.0,772.9 L196.1,777.7 L207.3,789.8 L222.3,807.3 L237.3,825.5 L250.3,839.4 L256.0,846.3 L264.2,857.7 L274.1,873.4 L277.7,879.4 L283.9,892.0 L296.8,923.5 L300.5,931.7 L304.8,940.1 L312.1,953.3 L321.7,969.1 L328.5,980.8 L332.7,987.0 L336.5,991.6 L339.3,994.4 L342.9,997.2 L346.7,999.6 L351.5,1002.3 L358.7,1005.7 L366.1,1008.9 L371.7,1011.0 L377.9,1012.9 L386.7,1015.0 L397.5,1017.1 L432.2,1022.4 L448.1,1024.5 L462.2,1025.3" fill="none" stroke="#b2df8a" stroke-width="1.85" stroke-dasharray="1.7,1.8"/>
<line x1="69.34" y1="593.30" x2="254.07" y2="593.30" stroke="#b2df8a" stroke-width="2.2"/>
</g>
<line x1="294.68" y1="571.40" x2="294.68" y2="1025.30" stroke="#ff3030" stroke-width="2.1" stroke-dasharray="2.7,2.7" stroke-dashoffset="3.95"/>
<text x="294.07" y="1019.70" font-size="15" fill="#ff3030" stroke="#ff3030" stroke-width="0.5" textLength="7.8" lengthAdjust="spacingAndGlyphs">R</text>
<text x="299.68" y="1021.90" font-size="12.5" fill="#ff3030" stroke="#ff3030" stroke-width="0.5" textLength="7.9" lengthAdjust="spacingAndGlyphs">x</text>
<text x="309.98" y="1024.30" font-size="12.4" font-style="italic" fill="#ff3030" textLength="21.9" lengthAdjust="spacingAndGlyphs">PTV</text>
<line x1="426.62" y1="571.40" x2="426.62" y2="1025.30" stroke="#ff3030" stroke-width="2.1" stroke-dasharray="2.7,2.7" stroke-dashoffset="3.95"/>
<text x="426.02" y="1019.70" font-size="15" fill="#ff3030" stroke="#ff3030" stroke-width="0.5" textLength="7.8" lengthAdjust="spacingAndGlyphs">R</text>
<text x="431.62" y="1021.90" font-size="12.5" fill="#ff3030" stroke="#ff3030" stroke-width="0.5" textLength="7.9" lengthAdjust="spacingAndGlyphs">x</text>
<text x="441.93" y="1024.30" font-size="12.4" font-style="italic" fill="#ff3030" textLength="24.1" lengthAdjust="spacingAndGlyphs">HTV</text>
<rect x="66.30" y="571.40" width="609.00" height="453.90" fill="none" stroke="#2b2b2b" stroke-width="1.8"/>
<g stroke="#2b2b2b" stroke-width="1.5">
<line x1="66.30" y1="1025.30" x2="66.30" y2="1033.50"/>
<line x1="167.80" y1="1025.30" x2="167.80" y2="1033.50"/>
<line x1="269.30" y1="1025.30" x2="269.30" y2="1033.50"/>
<line x1="370.80" y1="1025.30" x2="370.80" y2="1033.50"/>
<line x1="472.30" y1="1025.30" x2="472.30" y2="1033.50"/>
<line x1="573.80" y1="1025.30" x2="573.80" y2="1033.50"/>
<line x1="675.30" y1="1025.30" x2="675.30" y2="1033.50"/>
<line x1="57.50" y1="1025.30" x2="66.30" y2="1025.30"/>
<line x1="57.50" y1="938.90" x2="66.30" y2="938.90"/>
<line x1="57.50" y1="852.50" x2="66.30" y2="852.50"/>
<line x1="57.50" y1="766.10" x2="66.30" y2="766.10"/>
<line x1="57.50" y1="679.70" x2="66.30" y2="679.70"/>
<line x1="57.50" y1="593.30" x2="66.30" y2="593.30"/>
</g>
<text x="66.30" y="1050.10" font-size="13" text-anchor="middle" fill="#3a3a3a" stroke="#3a3a3a" stroke-width="0.2" textLength="7.3" lengthAdjust="spacingAndGlyphs" >0</text>
<text x="167.80" y="1050.10" font-size="13" text-anchor="middle" fill="#3a3a3a" stroke="#3a3a3a" stroke-width="0.2" textLength="15.0" lengthAdjust="spacingAndGlyphs" >10</text>
<text x="269.30" y="1050.10" font-size="13" text-anchor="middle" fill="#3a3a3a" stroke="#3a3a3a" stroke-width="0.2" textLength="15.0" lengthAdjust="spacingAndGlyphs" >20</text>
<text x="370.80" y="1050.10" font-size="13" text-anchor="middle" fill="#3a3a3a" stroke="#3a3a3a" stroke-width="0.2" textLength="15.0" lengthAdjust="spacingAndGlyphs" >30</text>
<text x="472.30" y="1050.10" font-size="13" text-anchor="middle" fill="#3a3a3a" stroke="#3a3a3a" stroke-width="0.2" textLength="15.0" lengthAdjust="spacingAndGlyphs" >40</text>
<text x="573.80" y="1050.10" font-size="13" text-anchor="middle" fill="#3a3a3a" stroke="#3a3a3a" stroke-width="0.2" textLength="15.0" lengthAdjust="spacingAndGlyphs" >50</text>
<text x="675.30" y="1050.10" font-size="13" text-anchor="middle" fill="#3a3a3a" stroke="#3a3a3a" stroke-width="0.2" textLength="15.0" lengthAdjust="spacingAndGlyphs" >60</text>
<text x="51.90" y="1030.00" font-size="13" text-anchor="end" fill="#3a3a3a" stroke="#3a3a3a" stroke-width="0.2" textLength="7.3" lengthAdjust="spacingAndGlyphs" >0</text>
<text x="51.90" y="943.60" font-size="13" text-anchor="end" fill="#3a3a3a" stroke="#3a3a3a" stroke-width="0.2" textLength="15.0" lengthAdjust="spacingAndGlyphs" >20</text>
<text x="51.90" y="857.20" font-size="13" text-anchor="end" fill="#3a3a3a" stroke="#3a3a3a" stroke-width="0.2" textLength="15.0" lengthAdjust="spacingAndGlyphs" >40</text>
<text x="51.90" y="770.80" font-size="13" text-anchor="end" fill="#3a3a3a" stroke="#3a3a3a" stroke-width="0.2" textLength="15.0" lengthAdjust="spacingAndGlyphs" >60</text>
<text x="51.90" y="684.40" font-size="13" text-anchor="end" fill="#3a3a3a" stroke="#3a3a3a" stroke-width="0.2" textLength="15.0" lengthAdjust="spacingAndGlyphs" >80</text>
<text x="51.90" y="598.00" font-size="13" text-anchor="end" fill="#3a3a3a" stroke="#3a3a3a" stroke-width="0.2" textLength="22.6" lengthAdjust="spacingAndGlyphs" >100</text>
<text x="370.80" y="561.50" font-size="14.4" text-anchor="middle" fill="#333333" stroke="#333333" stroke-width="0.2" textLength="143.7" lengthAdjust="spacingAndGlyphs" >3 beam comparison</text>
<text x="371.40" y="1071.50" font-size="14.2" text-anchor="middle" fill="#383838" stroke="#383838" stroke-width="0.2" textLength="73.5" lengthAdjust="spacingAndGlyphs" >Dose (Gy)</text>
<text x="0" y="0" font-size="15.6" text-anchor="middle" fill="#383838" stroke="#383838" stroke-width="0.2" textLength="84" lengthAdjust="spacingAndGlyphs" transform="translate(17.60,799.15) rotate(-90)">Volume (%)</text>
<rect x="515.00" y="579.70" width="153.20" height="155.20" rx="3" fill="#ffffff" fill-opacity="0.85" stroke="#d6d6d6" stroke-width="1"/>
<text x="534.00" y="597.00" font-size="14.6" text-anchor="start" fill="#2e2e2e" stroke="#2e2e2e" stroke-width="0.3" textLength="53" lengthAdjust="spacingAndGlyphs" >Method</text>
<line x1="521.10" y1="613.35" x2="551.40" y2="613.35" stroke="#1f78b4" stroke-width="2.1" />
<text x="563.70" y="618.45" font-size="14.6" text-anchor="start" fill="#2e2e2e" stroke="#2e2e2e" stroke-width="0.3" textLength="29" lengthAdjust="spacingAndGlyphs" >CRT</text>
<line x1="521.10" y1="634.80" x2="551.40" y2="634.80" stroke="#b2df8a" stroke-width="2.1" />
<text x="563.70" y="639.90" font-size="14.6" text-anchor="start" fill="#2e2e2e" stroke="#2e2e2e" stroke-width="0.3" textLength="35.2" lengthAdjust="spacingAndGlyphs" >IMRT</text>
<text x="534.00" y="661.35" font-size="14.6" text-anchor="start" fill="#2e2e2e" stroke="#2e2e2e" stroke-width="0.3" textLength="65.5" lengthAdjust="spacingAndGlyphs" >Structure</text>
<line x1="521.10" y1="677.70" x2="551.40" y2="677.70" stroke="#262626" stroke-width="2.1" />
<text x="563.70" y="682.80" font-size="14.6" text-anchor="start" fill="#2e2e2e" stroke="#2e2e2e" stroke-width="0.3" textLength="42" lengthAdjust="spacingAndGlyphs" >Tumor</text>
<line x1="521.10" y1="699.15" x2="551.40" y2="699.15" stroke="#333333" stroke-width="2.1" stroke-dasharray="8,3"/>
<text x="563.70" y="704.25" font-size="14.6" text-anchor="start" fill="#2e2e2e" stroke="#2e2e2e" stroke-width="0.3" textLength="98.7" lengthAdjust="spacingAndGlyphs" >Hypoxic Target</text>
<line x1="521.10" y1="720.60" x2="551.40" y2="720.60" stroke="#333333" stroke-width="2.1" stroke-dasharray="2,2.1"/>
<text x="563.70" y="725.70" font-size="14.6" text-anchor="start" fill="#2e2e2e" stroke="#2e2e2e" stroke-width="0.3" textLength="73.2" lengthAdjust="spacingAndGlyphs" >Non-Target</text>
<rect x="86" y="950" width="90" height="58" fill="#ffffff"/>
<text x="97.7" y="993.0" font-size="40" fill="#000" textLength="49.5" lengthAdjust="spacingAndGlyphs">(B)</text>
</g>
</svg>
</body></html>
